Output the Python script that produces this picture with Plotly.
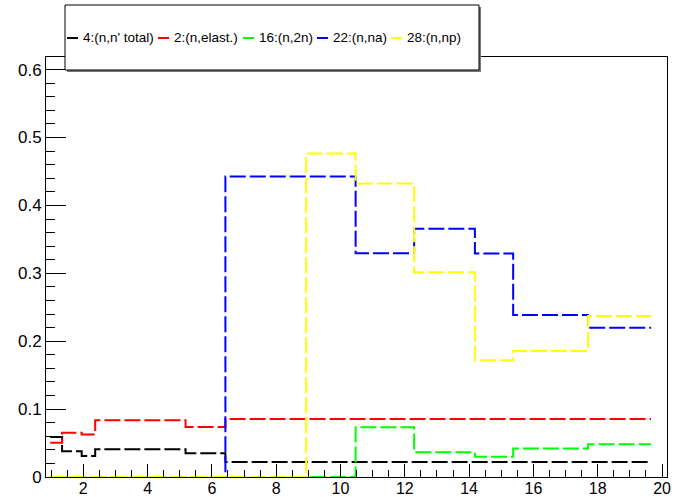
import plotly.graph_objects as go

# bin edges (MeV) shared by all reaction channels
bin_edges = [0.97, 1.34, 1.95, 2.37, 5.18, 6.42, 8.93, 10.47, 12.29, 14.18, 15.37, 17.7, 19.66]

# one value per bin
total_inelastic = [0.059, 0.038, 0.031, 0.041, 0.035, 0.0222, 0.0222, 0.0222, 0.0222, 0.0222, 0.0222, 0.0222]
elastic = [0.0505, 0.065, 0.0625, 0.0835, 0.0735, 0.0853, 0.0853, 0.0853, 0.0853, 0.0853, 0.0853, 0.0853]
n_2n = [0, 0, 0, 0, 0, 0, 0, 0.0733, 0.0364, 0.030, 0.0419, 0.0483]
n_alpha = [0, 0, 0, 0, 0, 0.4425, 0.4425, 0.3295, 0.3658, 0.3290, 0.2385, 0.2198]
n_p = [0, 0, 0, 0, 0, 0, 0.4764, 0.4322, 0.3015, 0.172, 0.1854, 0.2372]

names = ["4:(n,n' total)", "2:(n,elast.)", "16:(n,2n)", "22:(n,na)", "28:(n,np)"]
series = [total_inelastic, elastic, n_2n, n_alpha, n_p]
colors = ["#000000", "#ff0000", "#00ff00", "#0000ff", "#ffff00"]

FONT = "Liberation Sans, Arial, sans-serif"
W, H = 686, 497
L, R, T, B = 46, 19, 57, 20
PW, PH = W - L - R, H - T - B


def px_x(x):
    return (x - L) / PW


def px_y(y):
    return (H - B - y) / PH


fig = go.Figure()
for name, vals, color in zip(names, series, colors):
    fig.add_trace(go.Scatter(
        x=bin_edges,
        y=vals + [vals[-1]],
        mode="lines",
        name=name,
        line=dict(color=color, width=2, shape="hv", dash="16px,4px"),
        showlegend=False,
    ))

# ROOT-style legend box with shadow
lx0, lx1, ly0, ly1 = 65, 479, 5, 70
shapes = [
    dict(type="rect", xref="paper", yref="paper",
         x0=px_x(lx0 + 2), x1=px_x(lx1 + 2), y0=px_y(ly1 + 2), y1=px_y(ly0 + 2),
         line=dict(width=0), fillcolor="#777777", layer="above"),
    dict(type="rect", xref="paper", yref="paper",
         x0=px_x(lx0), x1=px_x(lx1), y0=px_y(ly1), y1=px_y(ly0),
         line=dict(color="black", width=1), fillcolor="white", layer="above"),
]
annotations = []
entry_x = [67, 158, 243, 317, 391]
ey = 38
for name, color, ex in zip(names, colors, entry_x):
    shapes.append(dict(type="line", xref="paper", yref="paper",
                       x0=px_x(ex), x1=px_x(ex + 11), y0=px_y(ey), y1=px_y(ey),
                       line=dict(color=color, width=2), layer="above"))
    annotations.append(dict(text=name, xref="paper", yref="paper",
                            x=px_x(ex + 14), y=px_y(ey), xanchor="left", yanchor="middle",
                            showarrow=False, font=dict(family=FONT, size=13.5, color="black")))

fig.update_layout(
    width=W, height=H,
    margin=dict(l=L, r=R, t=T, b=B, autoexpand=False),
    paper_bgcolor="white", plot_bgcolor="white",
    font=dict(family=FONT, size=16, color="black"),
    shapes=shapes,
    annotations=annotations,
    showlegend=False,
)
fig.update_xaxes(
    range=[0.84, 20.155], showgrid=False, zeroline=False, automargin=False,
    showline=True, linecolor="black", linewidth=1, mirror=True,
    ticks="inside", ticklen=13, tickcolor="black", dtick=2, tick0=0,
    minor=dict(ticks="inside", ticklen=7, dtick=0.5, tick0=0, tickcolor="black"),
    tickfont=dict(family=FONT, size=16), ticklabelstandoff=-3,
)
fig.update_yaxes(
    range=[0, 0.6186], showgrid=False, zeroline=False, automargin=False,
    showline=True, linecolor="black", linewidth=1, mirror=True,
    ticks="inside", ticklen=20, tickcolor="black", dtick=0.1, tick0=0,
    minor=dict(ticks="inside", ticklen=9, dtick=0.02, tick0=0, tickcolor="black"),
    tickfont=dict(family=FONT, size=17),
)

# page body has a default 8px margin; drop it so the figure fills the window
fig.write_html("out.html", config={"displayModeBar": False},
               post_script="document.body.style.margin='0px';")
